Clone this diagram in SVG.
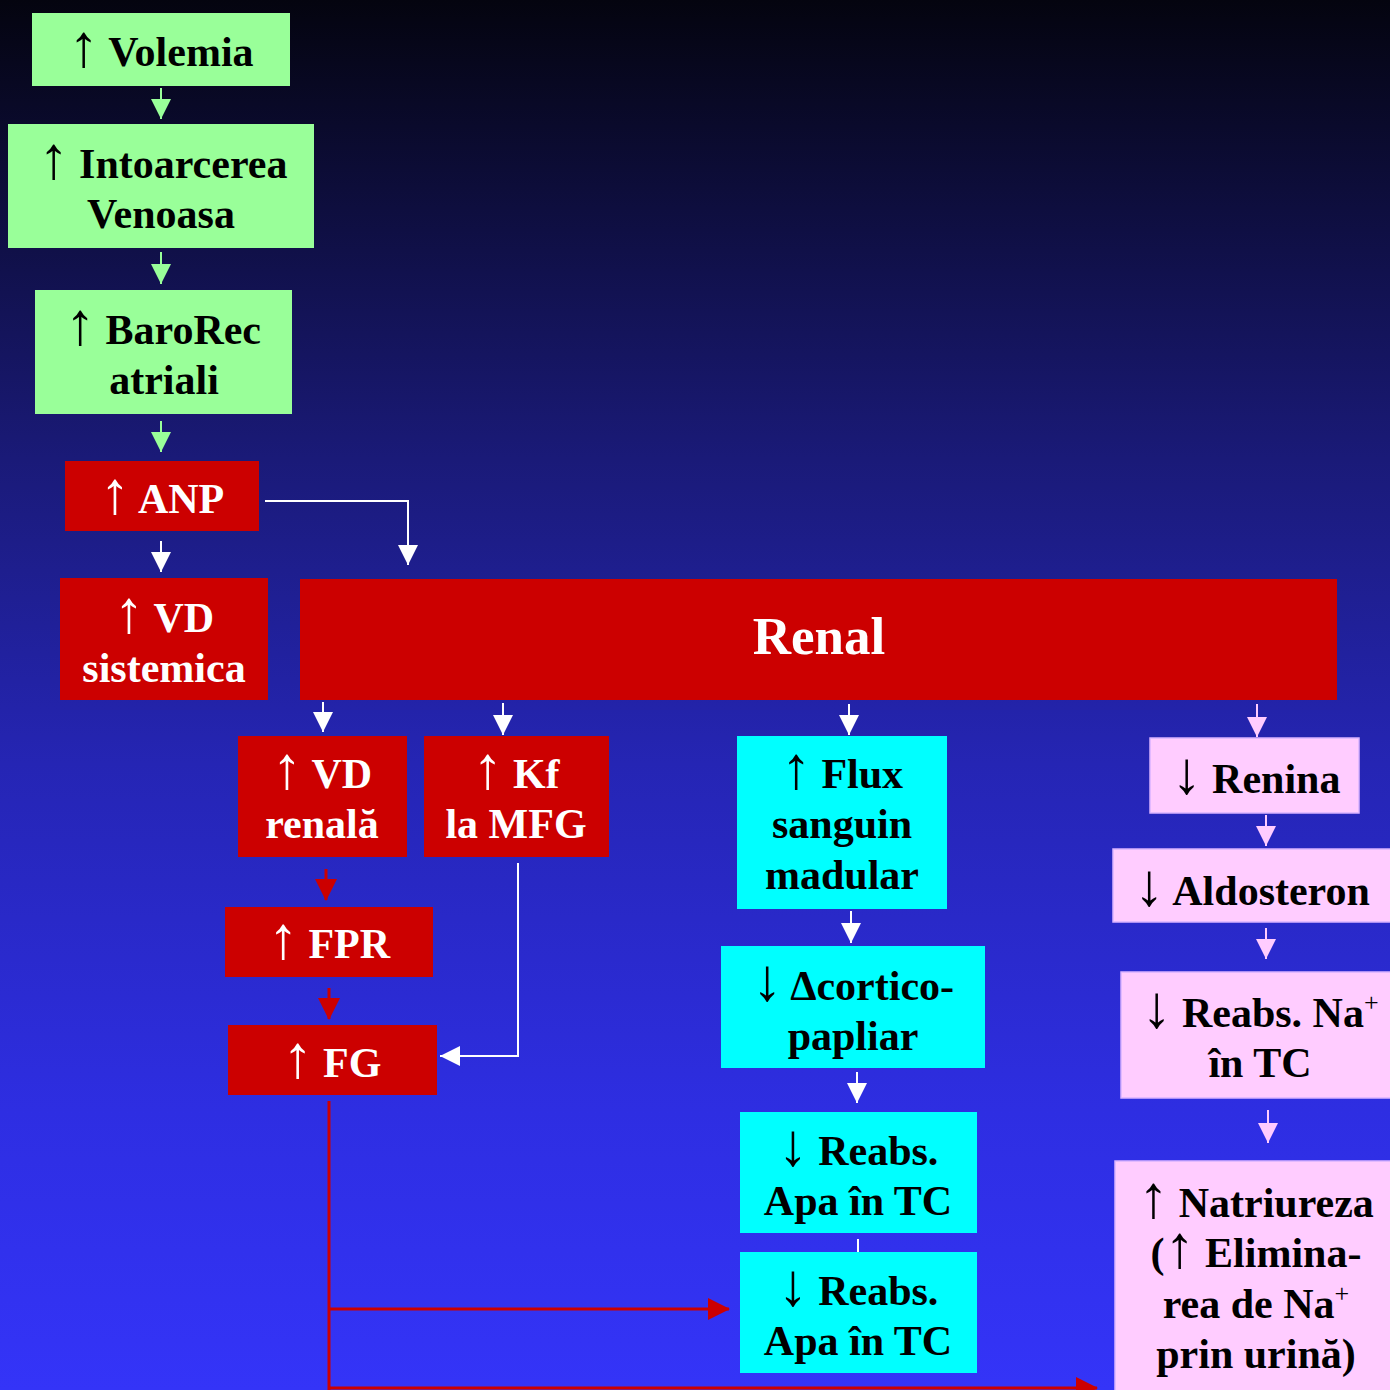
<svg xmlns="http://www.w3.org/2000/svg" width="1390" height="1390" viewBox="0 0 1390 1390">
<defs>
<linearGradient id="bg" x1="0" y1="0" x2="0" y2="1">
<stop offset="0" stop-color="#04040f"/>
<stop offset="0.33" stop-color="#1a1a78"/>
<stop offset="0.55" stop-color="#2525b4"/>
<stop offset="0.8" stop-color="#2e2ee2"/>
<stop offset="1" stop-color="#3434f8"/>
</linearGradient>
<marker id="mg" markerUnits="userSpaceOnUse" markerWidth="20" markerHeight="20" refX="20" refY="10" orient="auto"><path d="M0,0 L20,10 L0,20 z" fill="#99ff99"/></marker>
<marker id="mw" markerUnits="userSpaceOnUse" markerWidth="20" markerHeight="20" refX="20" refY="10" orient="auto"><path d="M0,0 L20,10 L0,20 z" fill="#ffffff"/></marker>
<marker id="mr" markerUnits="userSpaceOnUse" markerWidth="22" markerHeight="22" refX="21" refY="11" orient="auto"><path d="M0,0 L22,11 L0,22 z" fill="#cc0000"/></marker>
<marker id="mp" markerUnits="userSpaceOnUse" markerWidth="20" markerHeight="20" refX="20" refY="10" orient="auto"><path d="M0,0 L20,10 L0,20 z" fill="#ffccff"/></marker>
</defs>
<style>
.g{fill:#99ff99}
.r{fill:#cc0000}
.c{fill:#00ffff}
.p{fill:#ffccff;stroke:#d9b3ff;stroke-width:1.5}
text{font-family:"Liberation Serif","Times New Roman",serif;font-weight:bold;font-size:42px;text-anchor:middle}
.tb{fill:#000}
.tw{fill:#fff}
.ar{font-weight:normal;font-size:60px}
.sup{font-size:26px;font-weight:normal}
.lg{stroke:#99ff99;stroke-width:2;fill:none}
.lw{stroke:#ffffff;stroke-width:2;fill:none}
.lr{stroke:#cc0000;stroke-width:3;fill:none}
.lp{stroke:#ffccff;stroke-width:2;fill:none}
</style>
<rect x="0" y="0" width="1390" height="1390" fill="url(#bg)"/>

<g id="connectors">
<line class="lg" x1="161" y1="88" x2="161" y2="119" marker-end="url(#mg)"/>
<line class="lg" x1="161" y1="252" x2="161" y2="284" marker-end="url(#mg)"/>
<line class="lg" x1="161" y1="421" x2="161" y2="452" marker-end="url(#mg)"/>
<line class="lw" x1="161" y1="541" x2="161" y2="572" marker-end="url(#mw)"/>
<polyline class="lw" points="265,501 408,501 408,565" marker-end="url(#mw)"/>
<line class="lw" x1="323" y1="702" x2="323" y2="732" marker-end="url(#mw)"/>
<line class="lw" x1="503" y1="703" x2="503" y2="735" marker-end="url(#mw)"/>
<line class="lw" x1="849" y1="704" x2="849" y2="735" marker-end="url(#mw)"/>
<line class="lp" x1="1257" y1="704" x2="1257" y2="737" marker-end="url(#mp)"/>
<line class="lr" x1="326" y1="869" x2="326" y2="900" marker-end="url(#mr)"/>
<line class="lr" x1="329" y1="988" x2="329" y2="1019" marker-end="url(#mr)"/>
<polyline class="lw" points="518,863 518,1056 440,1056" marker-end="url(#mw)"/>
<line class="lw" x1="851" y1="911" x2="851" y2="943" marker-end="url(#mw)"/>
<line class="lw" x1="857" y1="1072" x2="857" y2="1103" marker-end="url(#mw)"/>
<line class="lw" x1="858" y1="1239" x2="858" y2="1252"/>
<line class="lp" x1="1266" y1="815" x2="1266" y2="846" marker-end="url(#mp)"/>
<line class="lp" x1="1266" y1="928" x2="1266" y2="959" marker-end="url(#mp)"/>
<line class="lp" x1="1268" y1="1110" x2="1268" y2="1143" marker-end="url(#mp)"/>
<line class="lr" x1="329" y1="1101" x2="329" y2="1390"/>
<line class="lr" x1="329" y1="1309" x2="729" y2="1309" marker-end="url(#mr)"/>
<line class="lr" x1="329" y1="1388" x2="1097" y2="1388" marker-end="url(#mr)"/>
</g>

<g id="volemia"><rect class="g" x="32" y="13" width="258" height="73"/>
<text class="tb" x="161" y="66"><tspan class="ar">↑</tspan> Volemia</text></g>
<g id="intoarcerea"><rect class="g" x="8" y="124" width="306" height="124"/>
<text class="tb" x="163" y="178"><tspan class="ar">↑</tspan> Intoarcerea</text>
<text class="tb" x="161" y="228">Venoasa</text></g>
<g id="barorec"><rect class="g" x="35" y="290" width="257" height="124"/>
<text class="tb" x="163" y="344"><tspan class="ar">↑</tspan> BaroRec</text>
<text class="tb" x="164" y="394">atriali</text></g>
<g id="anp"><rect class="r" x="65" y="461" width="194" height="70"/>
<text class="tw" x="162" y="513"><tspan class="ar">↑</tspan> ANP</text></g>
<g id="vd-sistemica"><rect class="r" x="60" y="578" width="208" height="122"/>
<text class="tw" x="164" y="632"><tspan class="ar">↑</tspan> VD</text>
<text class="tw" x="164" y="682">sistemica</text></g>
<g id="renal"><rect class="r" x="300" y="579" width="1037" height="121"/>
<text class="tw" x="819" y="654" style="font-size:53px">Renal</text></g>
<g id="vd-renala"><rect class="r" x="238" y="736" width="169" height="121"/>
<text class="tw" x="322" y="788"><tspan class="ar">↑</tspan> VD</text>
<text class="tw" x="322" y="838">renală</text></g>
<g id="kf"><rect class="r" x="424" y="736" width="185" height="121"/>
<text class="tw" x="516" y="788"><tspan class="ar">↑</tspan> Kf</text>
<text class="tw" x="516" y="838">la MFG</text></g>
<g id="fpr"><rect class="r" x="225" y="907" width="208" height="70"/>
<text class="tw" x="329" y="958"><tspan class="ar">↑</tspan> FPR</text></g>
<g id="fg"><rect class="r" x="228" y="1025" width="209" height="70"/>
<text class="tw" x="332" y="1077"><tspan class="ar">↑</tspan> FG</text></g>
<g id="flux"><rect class="c" x="737" y="736" width="210" height="173"/>
<text class="tb" x="842" y="788"><tspan class="ar">↑</tspan> Flux</text>
<text class="tb" x="842" y="838">sanguin</text>
<text class="tb" x="842" y="889">madular</text></g>
<g id="delta"><rect class="c" x="721" y="946" width="264" height="122"/>
<text class="tb" x="853" y="1000"><tspan class="ar">↓</tspan> Δcortico-</text>
<text class="tb" x="853" y="1050">papliar</text></g>
<g id="reabs-apa-1"><rect class="c" x="740" y="1112" width="237" height="121"/>
<text class="tb" x="858" y="1165"><tspan class="ar">↓</tspan> Reabs.</text>
<text class="tb" x="858" y="1215">Apa în TC</text></g>
<g id="reabs-apa-2"><rect class="c" x="740" y="1252" width="237" height="121"/>
<text class="tb" x="858" y="1305"><tspan class="ar">↓</tspan> Reabs.</text>
<text class="tb" x="858" y="1355">Apa în TC</text></g>
<g id="renina"><rect class="p" x="1150" y="738" width="209" height="75"/>
<text class="tb" x="1256" y="793"><tspan class="ar">↓</tspan> Renina</text></g>
<g id="aldosteron"><rect class="p" x="1113" y="849" width="285" height="73"/>
<text class="tb" x="1252" y="905"><tspan class="ar">↓</tspan> Aldosteron</text></g>
<g id="reabs-na"><rect class="p" x="1121" y="972" width="277" height="126"/>
<text class="tb" x="1260" y="1027"><tspan class="ar">↓</tspan> Reabs. Na<tspan class="sup" dy="-16">+</tspan></text>
<text class="tb" x="1260" y="1077">în TC</text></g>
<g id="natriureza"><rect class="p" x="1115" y="1161" width="283" height="240"/>
<text class="tb" x="1256" y="1217"><tspan class="ar">↑</tspan> Natriureza</text>
<text class="tb" x="1256" y="1267">(<tspan class="ar">↑</tspan> Elimina-</text>
<text class="tb" x="1256" y="1318">rea de Na<tspan class="sup" dy="-16">+</tspan></text>
<text class="tb" x="1256" y="1368">prin urină)</text></g>
</svg>
